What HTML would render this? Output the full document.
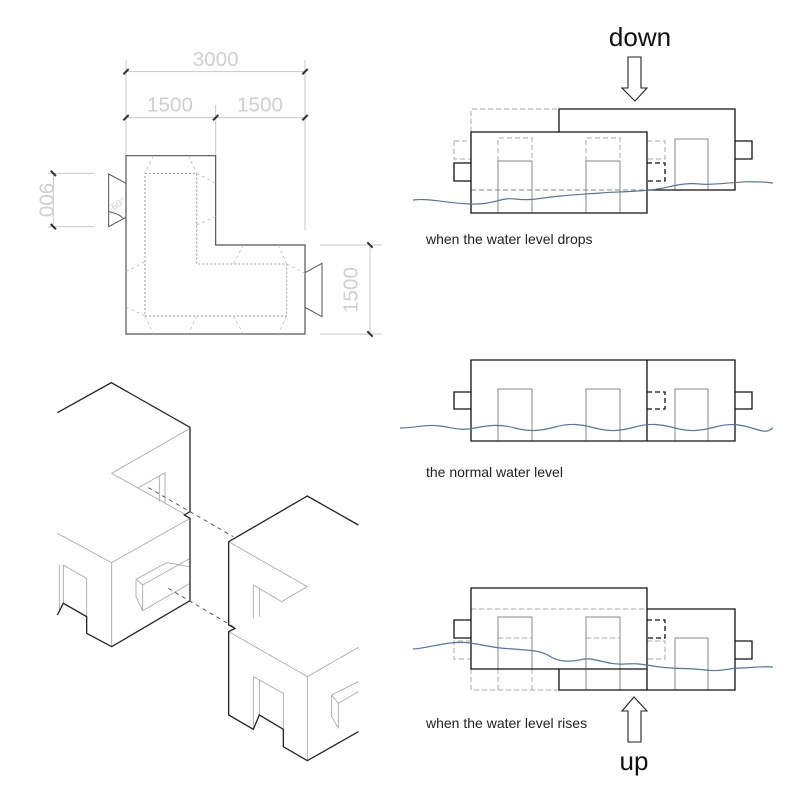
<!DOCTYPE html>
<html><head><meta charset="utf-8"><style>
html,body{margin:0;padding:0;background:#fff;width:800px;height:800px;overflow:hidden}
svg{display:block}
text{font-family:"Liberation Sans",sans-serif}
.n{vector-effect:non-scaling-stroke}
</style></head><body>
<svg width="800" height="800" viewBox="0 0 800 800" xmlns="http://www.w3.org/2000/svg">
<!-- PLAN -->
<g transform="translate(40,40) scale(0.33333)" fill="none">
 <g stroke="#c8c8c8" stroke-width="1" class="n">
  <path class="n" d="M258,60V347M527,195V347M795,60V570M25,400H160M25,560H160M840,615H1025M840,882H1025"/>
  <path class="n" d="M258,95H795M258,233H795M40,400V560M990,615V882"/>
 </g>
 <g stroke="#333" stroke-width="2" class="n">
  <path class="n" d="M250,103L266,87M787,103L803,87M250,241L266,225M519,241L535,225M787,241L803,225M32,392L48,408M32,552L48,568M982,607L998,623M982,874L998,890"/>
 </g>
 <g fill="#cfcfcf" font-size="62" text-anchor="middle">
  <text x="527" y="78">3000</text>
  <text x="390" y="215">1500</text>
  <text x="660" y="215">1500</text>
  <text transform="translate(952,750) rotate(-90)">1500</text>
  <text transform="translate(-2,480) rotate(90)">900</text>
  <text transform="translate(240,500) rotate(-30)" font-size="30">60°</text>
 </g>
 <path class="n" stroke="#555" stroke-width="1.2" d="M258,347H527V615H795V882H258Z"/>
 <path class="n" stroke="#555" stroke-width="1" d="M258,430L206,402V560L258,532M795,698L846,670V830L795,802"/>
 <path class="n" stroke="#999" stroke-width="1" stroke-dasharray="2,2" d="M315,400H470V672H740V828H315Z"/>
 <path class="n" stroke="#bbb" stroke-width="0.8" stroke-dasharray="3,3" d="M340,347L315,400M445,347L470,400M470,400L527,430M470,555L527,530M610,615L580,672M715,615L740,672M258,695L315,665M258,800L315,828M315,828L340,882M470,828L445,882M580,828L610,882M740,828L715,882M740,672L795,700"/>
 <path class="n" stroke="#555" stroke-width="1" d="M206,515Q235,520 250,535"/>
</g>

<!-- ISO -->
<g transform="translate(0,370) scale(0.33333)" fill="none">
 <g stroke="#aaa" stroke-width="0.9">
  <path class="n" d="M570,175L335,310L555,433M416,353L495,308V400M478,318V395"/>
  <path class="n" d="M172,490L335,578L570,445M335,578V830M190,585L260,625V740M190,585V700M178,585V720"/>
  <path class="n" d="M408,628L500,578L570,590M408,628L428,645L570,565M428,645V722M408,628V680L428,722M428,722L570,640"/>
  <path class="n" d="M686,515L922,650L845,695M760,645V745M760,645L845,695M778,655V740"/>
  <path class="n" d="M686,785L922,920L1075,832M922,920V1172M760,920L850,970V1078M760,920V1078M778,930V1035"/>
  <path class="n" d="M995,975L1075,935M995,975L1015,1000L1075,965M1015,1000V1075M995,975V1040L1015,1075"/>
 </g>
 <g stroke="#222" stroke-width="1.3">
  <path class="n" d="M172,128L334,38L570,172V425L553,435L570,445V692L335,830L260,790V740L190,700L172,735"/>
  <path class="n" d="M686,515L922,378L1075,465M686,515V765L705,775L686,785V1035L760,1078L778,1035L850,1078V1130L922,1172L1075,1085"/>
 </g>
 <path class="n" stroke="#444" stroke-width="0.9" stroke-dasharray="4,4" d="M445,353L700,500M505,655L700,770"/>
</g>

<!-- RIGHT: DROPS -->
<g fill="none">
 <path d="M471,132V109H559" stroke="#aaa" stroke-dasharray="5,3"/>
 <path d="M454,141H471M454,141V159H471" stroke="#aaa" stroke-dasharray="5,3"/>
 <path d="M647,141H665V159H647" stroke="#aaa" stroke-dasharray="5,3"/>
 <path d="M498,161V138H532V161M586,161V138H620V161" stroke="#aaa" stroke-dasharray="5,3"/>
 <path d="M471,190H647" stroke="#888" stroke-dasharray="5,3"/>
 <path d="M498,213V161H532V213M586,213V161H620V213M675,190V139H708V190" stroke="#888" stroke-width="1"/>
 <path d="M471,132H647V213H471ZM559,132V109H735V190H647M454,163H471V181H454ZM735,141H752V159H735" stroke="#111" stroke-width="1.3"/>
 <path d="M647,163H665V181H647" stroke="#111" stroke-width="1.3" stroke-dasharray="5,3"/>
 <path d="M413,200C430,198 445,203 470,204S500,197 515,199S540,198 560,196S590,194 600,193S630,192 650,190S680,182 700,184S740,179 773,183" stroke="#5a7596" stroke-width="1.2"/>
 <path d="M628,57H641V88H647L635,101L622,88H628Z" stroke="#222" stroke-width="1.1"/>
</g>
<text x="640" y="46" font-size="26" text-anchor="middle" fill="#111">down</text>
<text x="426" y="244" font-size="14" fill="#222">when the water level drops</text>

<!-- RIGHT: NORMAL -->
<g fill="none">
 <path d="M498,441V389H532V441M586,441V389H620V441M675,441V389H708V441" stroke="#888"/>
 <path d="M471,360H735V441H471ZM647,360V441M454,392H471V409H454ZM735,392H752V409H735" stroke="#111" stroke-width="1.3"/>
 <path d="M647,392H665V409H647" stroke="#111" stroke-width="1.3" stroke-dasharray="5,3"/>
 <path d="M400,428C415,428 425,424 440,426S460,431 475,428S500,424 515,428S540,431 555,427S580,424 595,428S620,431 635,427S660,424 675,428S700,431 715,427S740,424 755,429S770,429 773,428" stroke="#5a7596" stroke-width="1.2"/>
</g>
<text x="426" y="477" font-size="14" fill="#222">the normal water level</text>

<!-- RIGHT: RISES -->
<g fill="none">
 <path d="M471,609H647M498,638H532M586,638H620" stroke="#aaa" stroke-dasharray="5,3"/>
 <path d="M471,669V690H559M498,669V690M532,669V690" stroke="#aaa" stroke-dasharray="5,3"/>
 <path d="M471,641H454V659H471M647,641H665V659H647" stroke="#aaa" stroke-dasharray="5,3"/>
 <path d="M498,669V617H532V669M586,690V617H620V690M675,690V638H708V690" stroke="#888"/>
 <path d="M471,588H647V669H471ZM559,669V690H735V609H647V690M454,620H471V638H454ZM735,641H752V659H735" stroke="#111" stroke-width="1.3"/>
 <path d="M647,620H665V638H647" stroke="#111" stroke-width="1.3" stroke-dasharray="5,3"/>
 <path d="M413,649C430,648 450,640 470,643S490,647 500,648S520,649 535,651S550,660 565,661S580,658 590,659S610,665 625,664S645,665 660,667S690,668 705,670S730,668 740,668S760,666 773,667" stroke="#5a7596" stroke-width="1.2"/>
 <path d="M628,742V711H622L634,697L647,711H641V742Z" stroke="#222" stroke-width="1.1"/>
</g>
<text x="634" y="770" font-size="26" text-anchor="middle" fill="#111">up</text>
<text x="426" y="728" font-size="14" fill="#222">when the water level rises</text>
</svg>
</body></html>
